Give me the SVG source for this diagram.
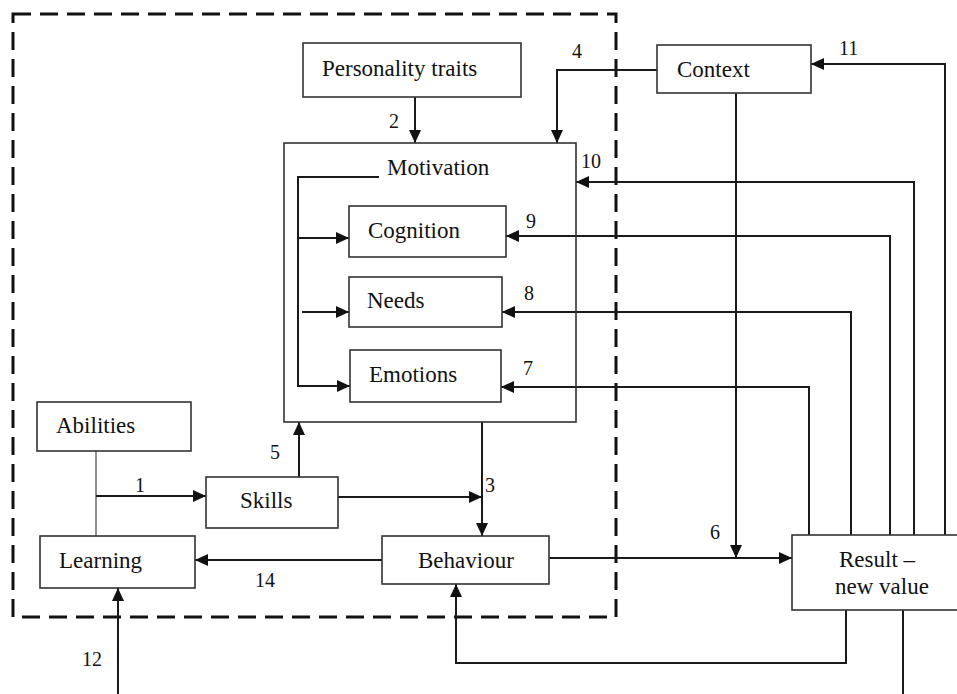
<svg xmlns="http://www.w3.org/2000/svg" width="957" height="694" viewBox="0 0 957 694">
<defs>
<marker id="ah" markerUnits="userSpaceOnUse" markerWidth="13" markerHeight="12" refX="13" refY="6" orient="auto">
<path d="M0,0 L13,6 L0,12 z" fill="#111"/>
</marker>
<style>
.box{fill:#fff;stroke:#333;stroke-width:1.6}
.t{font-family:"Liberation Serif","Times New Roman",serif;font-size:23px;fill:#111}
.n{font-family:"Liberation Serif","Times New Roman",serif;font-size:20px;fill:#111}
.c{fill:none;stroke:#1a1a1a;stroke-width:2}
.a{marker-end:url(#ah)}
.thin{fill:none;stroke:#555;stroke-width:1.3}
</style>
</defs>
<rect width="957" height="694" fill="#fff"/>
<rect id="boundary" x="13" y="14" width="603" height="603" fill="none" stroke="#111" stroke-width="3" stroke-dasharray="18 9"/>

<g id="connectors">
<path class="thin" d="M96,451 V536"/>
<path class="c a" d="M96,496 H206"/>
<path class="c a" d="M415,97 V143"/>
<path class="c a" d="M657,70 H557 V143"/>
<path class="c a" d="M299,477 V422"/>
<path class="c a" d="M338,497 H482"/>
<path class="c a" d="M482,422 V536"/>
<path class="c a" d="M382,560 H195"/>
<path class="c a" d="M549,558 H792"/>
<path class="c a" d="M736,93 V558"/>
<path class="c a" d="M809,535 V387 H501"/>
<path class="c a" d="M851,535 V312 H502"/>
<path class="c a" d="M890,535 V236 H506"/>
<path class="c a" d="M914,535 V182 H576"/>
<path class="c a" d="M945,535 V64 H811"/>
<path class="c a" d="M846,610 V663 H456 V584"/>
<path class="c" d="M903,610 V694"/>
<path class="c a" d="M118,694 V588"/>
<path class="c a" d="M379,177 H298 V386 H350"/>
<path class="c a" d="M298,238 H349"/>
<path class="c a" d="M302,312 H349"/>
</g>

<g id="labels">
<text class="n" x="135" y="492">1</text>
<text class="n" x="389" y="128">2</text>
<text class="n" x="485" y="492">3</text>
<text class="n" x="572" y="58">4</text>
<text class="n" x="270" y="459">5</text>
<text class="n" x="710" y="539">6</text>
<text class="n" x="523" y="375">7</text>
<text class="n" x="524" y="300">8</text>
<text class="n" x="526" y="228">9</text>
<text class="n" x="581" y="168">10</text>
<text class="n" x="839" y="55">11</text>
<text class="n" x="82" y="666">12</text>
<text class="n" x="255" y="587">14</text>
</g>

<g id="personality"><rect class="box" x="303" y="43" width="218" height="54"/><text class="t" x="322" y="76">Personality traits</text></g>
<g id="context"><rect class="box" x="657" y="45" width="154" height="48"/><text class="t" x="677" y="77">Context</text></g>
<g id="motivation"><rect class="box" x="284" y="143" width="292" height="279" fill-opacity="0"/><text class="t" x="387" y="175">Motivation</text></g>
<g id="cognition"><rect class="box" x="349" y="206" width="157" height="51"/><text class="t" x="368" y="238">Cognition</text></g>
<g id="needs"><rect class="box" x="349" y="277" width="153" height="50"/><text class="t" x="367" y="308">Needs</text></g>
<g id="emotions"><rect class="box" x="350" y="350" width="151" height="52"/><text class="t" x="369" y="382">Emotions</text></g>
<g id="abilities"><rect class="box" x="37" y="402" width="154" height="49"/><text class="t" x="56" y="433">Abilities</text></g>
<g id="skills"><rect class="box" x="206" y="477" width="132" height="51"/><text class="t" x="240" y="508">Skills</text></g>
<g id="learning"><rect class="box" x="40" y="536" width="155" height="52"/><text class="t" x="59" y="568">Learning</text></g>
<g id="behaviour"><rect class="box" x="382" y="536" width="167" height="48"/><text class="t" x="418" y="568">Behaviour</text></g>
<g id="result"><rect class="box" x="792" y="535" width="170" height="75"/><text class="t" x="839" y="567">Result –</text><text class="t" x="835" y="594">new value</text></g>
</svg>
